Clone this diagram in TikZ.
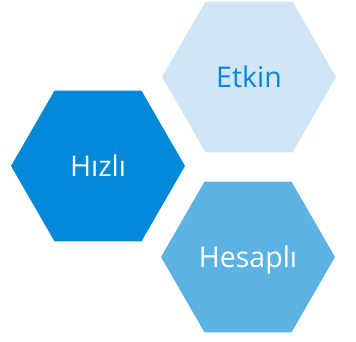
\documentclass[tikz,border=0pt]{standalone}
\usepackage{fontspec}
\setmainfont{Open Sans}
\usepackage{tikz}
\usetikzlibrary{shapes.geometric}
\definecolor{hxpale}{HTML}{D0E6F6}
\definecolor{hxdeep}{HTML}{0288D8}
\definecolor{hxmid}{HTML}{5DB2E4}
\tikzset{
  hx/.style ={regular polygon, regular polygon sides=6, minimum size=174pt,
              inner sep=0pt, outer sep=0pt, font=\fontsize{28.5}{28.5}\selectfont,
              text height=20.5pt, text depth=0pt},
  hxa/.style={hx, fill=hxpale, text=hxdeep},
  hxb/.style={hx, fill=hxdeep, text=white},
  hxc/.style={hx, fill=hxmid, text=white}
}
\begin{document}
\begin{tikzpicture}[x=1pt,y=1pt]
\useasboundingbox (0,0) rectangle (356,342);
\node[hxa] (etkin)   at (249,265) {Etkin};
\node[hxb] (hizli)   at (98,176)  {Hızlı};
\node[hxc] (hesapli) at (248,85)  {Hesaplı};
\end{tikzpicture}
\end{document}
